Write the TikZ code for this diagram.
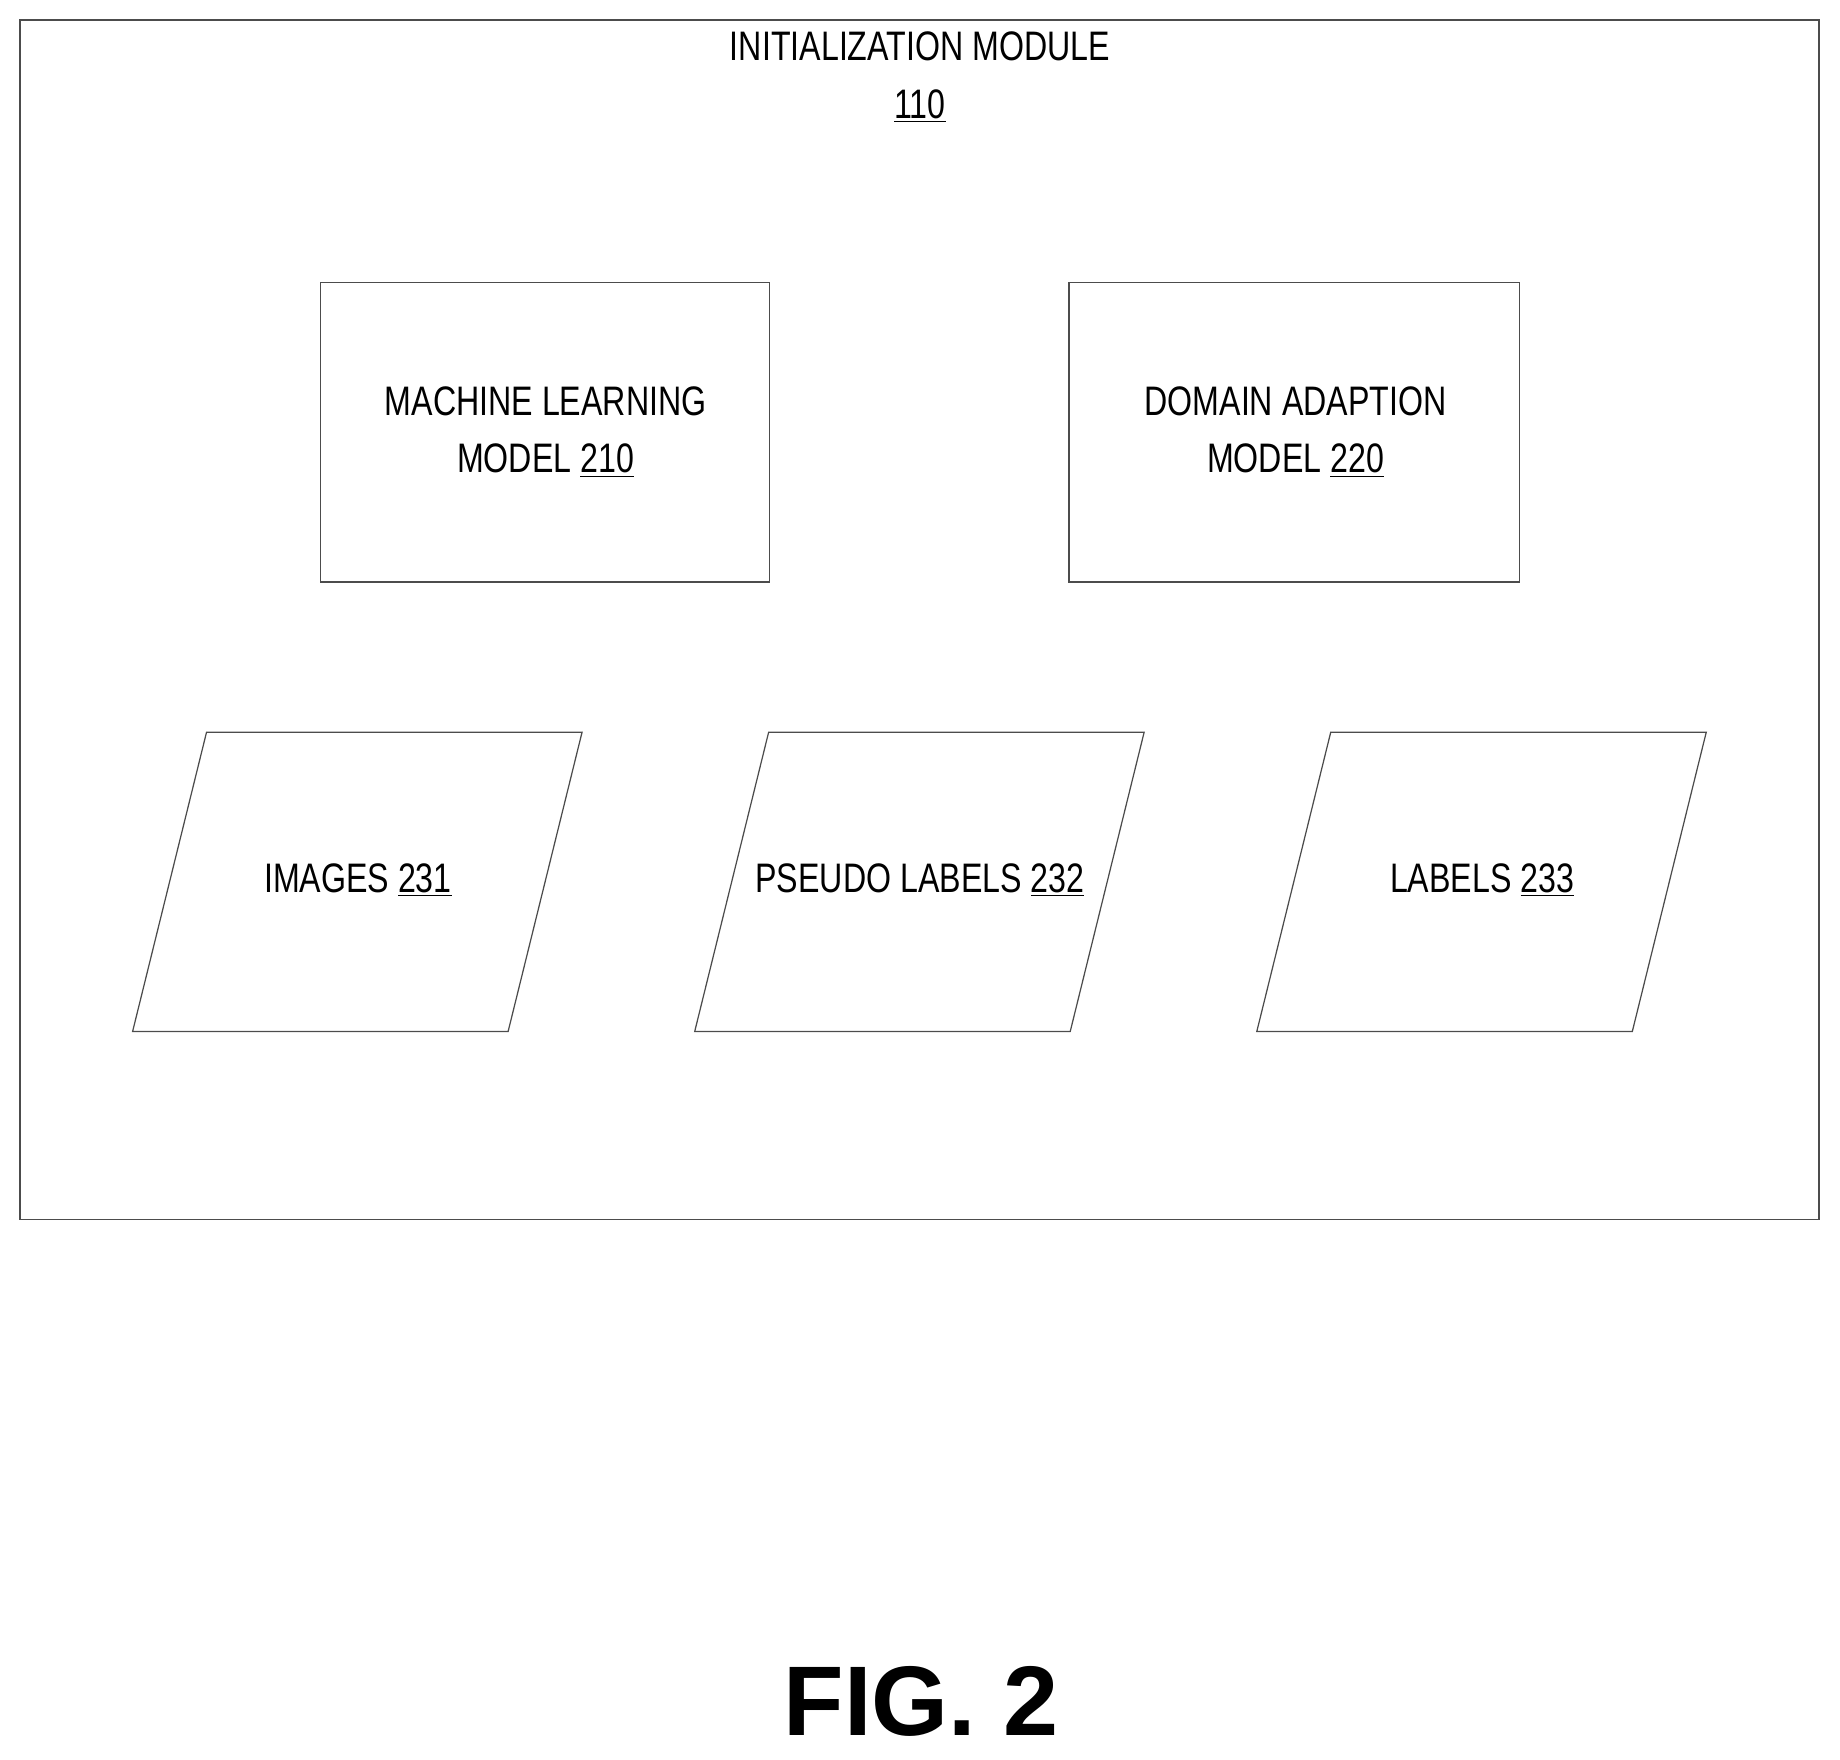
\documentclass[tikz,border=0pt]{standalone}
\usepackage{fontspec}
\setmainfont{Liberation Sans}
\newfontfamily\narrowf[FakeStretch=0.78]{Liberation Sans}
\begin{document}
\begin{tikzpicture}[x=0.02cm,y=-0.02cm,
  lbl/.style={font=\narrowf\fontsize{20}{24}\selectfont,align=center,inner sep=0},
  edge/.style={draw=black!70,line width=0.6pt}]
\useasboundingbox (0,0) rectangle (1568,1499);
\draw[edge] (17,17) rectangle (1550,1039);
\node[lbl] (t) at (784,66) {INITIALIZATION MODULE\\[4pt]\underline{110}};
\draw[edge] (273,241) rectangle (656,496);
\node[lbl] (ml) at (465,368) {MACHINE LEARNING\\[4pt]MODEL \underline{210}};
\draw[edge] (911,241) rectangle (1295,496);
\node[lbl] (da) at (1104,368) {DOMAIN ADAPTION\\[4pt]MODEL \underline{220}};
\foreach \dx/\name/\txt in {0/im/IMAGES \underline{231},479/ps/PSEUDO LABELS \underline{232},958/lb/LABELS \underline{233}}{
  \draw[edge] (113+\dx,879) -- (176+\dx,624) -- (496+\dx,624) -- (433+\dx,879) -- cycle;
  \node[lbl] (\name) at (305+\dx,750) {\txt};
}
\node[font=\bfseries\fontsize{48}{56}\selectfont,inner sep=0] (fig) at (785,1450) {FIG. 2};
\end{tikzpicture}
\end{document}
